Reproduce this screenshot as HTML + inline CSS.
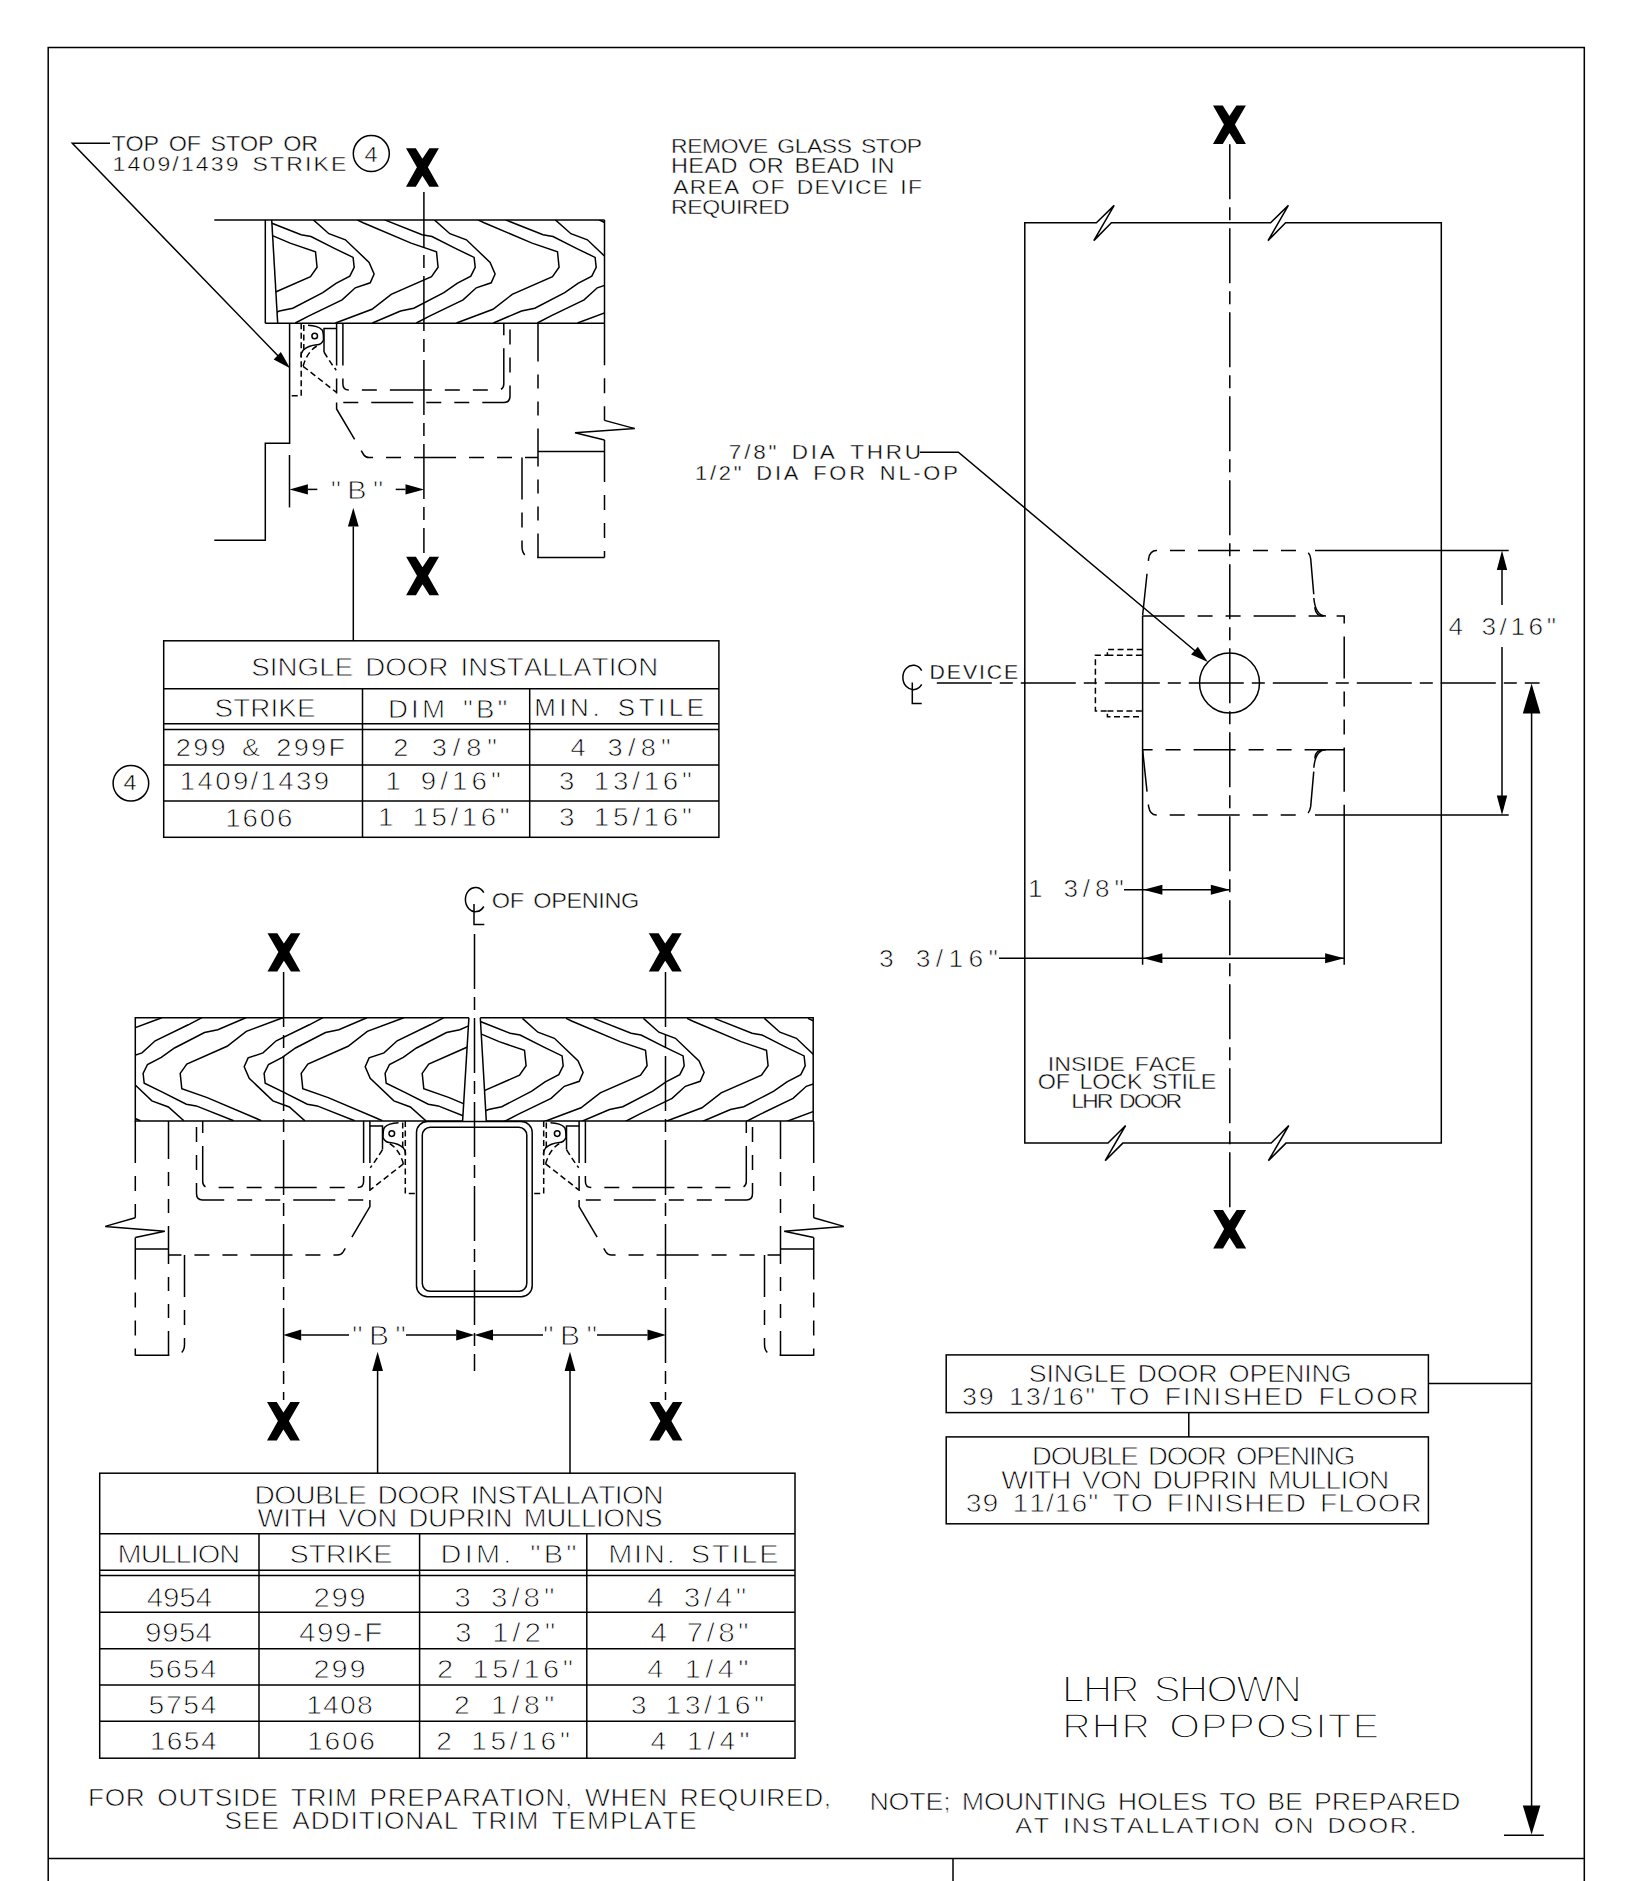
<!DOCTYPE html><html><head><meta charset="utf-8"><title>Template</title><style>
html,body{margin:0;padding:0;background:#fff;}
svg{display:block;}
.s,.h,.h2,.c,.d{fill:none;stroke:#000;stroke-width:1.5;}
.h{stroke-dasharray:42 13 15 13 15 13;}
.h2{stroke-dasharray:38 13 14 13 14 13;}
.c{stroke-dasharray:55 8 13 8;}
.d{stroke-dasharray:6 3.5;}
.fill{fill:#000;stroke:none;}
.t{font-family:"Liberation Sans",sans-serif;fill:#000;font-kerning:none;stroke:#fff;}
</style></head><body><svg width="1632" height="1881" viewBox="0 0 1632 1881">
<polyline class="s" points="48.2,1881 48.2,47.6 1584.3,47.6 1584.3,1881"/>
<line class="s" x1="48.2" y1="1858.4" x2="1584.3" y2="1858.4"/>
<line class="s" x1="953" y1="1858.5" x2="953" y2="1881"/>
<defs><g id="wt"><polyline class="s" points="357,219.9 363.1,222.7 411.1,243.1 436.5,251.9 438.1,267.3 431.5,276.7 391.2,294.4 372,309.3 335.5,323"/><polyline class="s" points="384.6,219.9 422.1,234.8 432,236.5 455.9,248.6 474.1,257.4 475.2,267.3 470.8,276.2 457,283.3 443.8,292.7 413.8,308.2 400.5,311 372.4,323"/><polyline class="s" points="434.4,219.9 449.9,233.7 466.4,239.8 490.1,262.4 495.1,274 491.2,282.8 476.3,287.8 463.1,299.9 430,315.9 416.3,323"/></g><clipPath id="c1"><polygon points="271.7,219.9 604.5,219.9 604.5,323.2 277.7,323.2"/></clipPath><clipPath id="c2"><polygon points="135.3,1017.7 468.9,1017.7 462.6,1121 135.3,1121"/></clipPath><clipPath id="c3"><polygon points="480.3,1017.7 813.2,1017.7 813.2,1121 486.3,1121"/></clipPath></defs>
<g clip-path="url(#c1)"><g transform="translate(0,0)"><use href="#wt" x="-363"/><use href="#wt" x="-242"/><use href="#wt" x="-121"/><use href="#wt" x="0"/><use href="#wt" x="121"/><use href="#wt" x="242"/></g></g>
<g clip-path="url(#c2)"><g transform="translate(618.3,1340.7) scale(-1,-1)"><use href="#wt" x="-484"/><use href="#wt" x="-363"/><use href="#wt" x="-242"/><use href="#wt" x="-121"/><use href="#wt" x="0"/><use href="#wt" x="121"/><use href="#wt" x="242"/><use href="#wt" x="363"/><use href="#wt" x="484"/></g></g>
<g clip-path="url(#c3)"><g transform="translate(88,798.5)"><use href="#wt" x="-363"/><use href="#wt" x="-242"/><use href="#wt" x="-121"/><use href="#wt" x="0"/><use href="#wt" x="121"/><use href="#wt" x="242"/><use href="#wt" x="363"/><use href="#wt" x="484"/></g></g>
<line class="s" x1="214.3" y1="219.9" x2="604.5" y2="219.9"/>
<line class="s" x1="265.3" y1="219.9" x2="265.3" y2="323.3"/>
<line class="s" x1="265.3" y1="323.3" x2="604.5" y2="323.3"/>
<line class="s" x1="271.7" y1="219.9" x2="277.7" y2="323.3"/>
<line class="s" x1="604.5" y1="219.9" x2="604.5" y2="323.3"/>
<polyline class="s" points="214.3,540.3 265.3,540.3 265.3,443.2 289.6,443.2 289.6,323.3"/>
<polyline class="s" points="468.9,1017.7 135.3,1017.7 135.3,1121 462.6,1121 468.9,1017.7"/>
<polyline class="s" points="480.3,1017.7 813.2,1017.7 813.2,1121 486.3,1121 480.3,1017.7"/>
<defs><g id="hw"><path class="d" d="M301.2,323.3 V395.8 H289.6"/><path class="d" d="M303.8,325 V350"/><circle class="s" cx="314.7" cy="336" r="2.8"/><path class="s" d="M308,325.2 Q318,325.5 322.1,329.9 Q323.5,332 323.5,340 Q321,345 316.9,344.8 Q308,345.5 303.1,350.3 Q301,353 300.9,357"/><path class="s" d="M324,352 V328.5 H336.7"/><path class="d" d="M324,352 Q330,362 336.2,370.2"/><path class="d" d="M303.1,366.3 Q307,352 316.9,345.9"/><path class="d" d="M303.1,366.3 L336.2,392.2"/><path class="h" d="M336.6,323.4 V396 Q336.6,402.4 343,402.4 H504 Q510,402.4 510,396 V323.4"/><path class="h" d="M342.9,323.4 V384 Q342.9,390 349,390 H497 Q503.8,390 503.8,384 V323.4"/><path class="h" d="M336.6,402.4 V409 L363.5,454.5 Q365.5,457.5 369,457.5 H538"/><path class="h2" d="M538,323.4 V557.6"/><path class="h" d="M538,451.4 H571"/><path class="h" d="M522,457.5 V546.6 Q522,557.6 533,557.6 H571"/></g></defs>
<use href="#hw"/>
<use href="#hw" transform="translate(706.5,797.6) scale(-1,1)"/>
<use href="#hw" transform="translate(242.5,797.6)"/>
<path class="h" d="M571,451.4 H604.5 M571,557.6 H604.5"/>
<path class="h" d="M604.5,323.3 V420.4"/>
<path class="s" d="M604.5,420.4 L634.8,428.6 L575,432.8 L604.5,440"/>
<path class="h" d="M604.5,440 V557.6"/>
<path class="h" d="M135.3,1121 V1217.8"/>
<path class="s" d="M135.3,1217.8 L105.2,1226.4 L164.8,1231.3 L135.3,1237.5"/>
<path class="h" d="M135.3,1237.5 V1355.8"/>
<path class="h" d="M813.7,1121 V1217.8"/>
<path class="s" d="M813.7,1217.8 L843.8,1226.4 L784.2,1231.3 L813.7,1237.5"/>
<path class="h" d="M813.7,1237.5 V1355.8"/>
<polyline class="s" points="110,143.3 72.3,143.3 285,363"/>
<polygon class="fill" points="290.1,368.2 273.7,359.5 280.9,352.1"/>
<circle class="s" cx="371.3" cy="153.6" r="18"/>
<polygon class="fill" points="406,148.3 415.8,148.3 422.4,158.8 429.4,148.3 438.9,148.3 427.9,167.2 438.9,186.7 429.4,186.7 422.4,175.8 415.8,186.7 406,186.7 416.9,167.2"/>
<polygon class="fill" points="406.1,556.8 415.9,556.8 422.5,567.2 429.5,556.8 439,556.8 428,575.7 439,595.2 429.5,595.2 422.5,584.3 415.9,595.2 406.1,595.2 417,575.7"/>
<line class="c" x1="423.9" y1="192" x2="423.9" y2="553"/>
<line class="s" x1="289.5" y1="455" x2="289.5" y2="507.4"/>
<polygon class="fill" points="289.5,489.4 307.9,484.3 307.9,494.5"/>
<line class="s" x1="307.9" y1="489.4" x2="317.3" y2="489.4"/>
<line class="s" x1="395.7" y1="489.4" x2="405.5" y2="489.4"/>
<polygon class="fill" points="424.1,489.4 405.5,494.5 405.5,484.3"/>
<polygon class="fill" points="353.3,507.8 358.7,526.5 347.9,526.5"/>
<line class="s" x1="353.3" y1="526.5" x2="353.3" y2="640.8"/>
<rect class="s" x="163.7" y="640.8" width="555.2" height="196.5"/>
<line class="s" x1="163.7" y1="688.7" x2="718.9" y2="688.7"/>
<line class="s" x1="163.7" y1="723.8" x2="718.9" y2="723.8"/>
<line class="s" x1="163.7" y1="729.6" x2="718.9" y2="729.6"/>
<line class="s" x1="163.7" y1="765.1" x2="718.9" y2="765.1"/>
<line class="s" x1="163.7" y1="801" x2="718.9" y2="801"/>
<line class="s" x1="362.5" y1="688.7" x2="362.5" y2="837.3"/>
<line class="s" x1="529.7" y1="688.7" x2="529.7" y2="837.3"/>
<circle class="s" cx="130.9" cy="783.3" r="17.8"/>
<path class="s" d="M1024.8,1143.1 V222.8 H1096.4 L1114.2,205.4 L1093.8,240.6 L1111.4,222.8 H1270.6 L1288.4,205.4 L1268,240.6 L1285.6,222.8 H1441.3 V1143.1 H1286 L1268.4,1160.7 L1288.8,1125.5 L1271.2,1143.1 H1122.8 L1105.2,1160.7 L1125.6,1125.5 L1108,1143.1 Z"/>
<polygon class="fill" points="1213,105.5 1222.8,105.5 1229.4,116 1236.4,105.5 1245.9,105.5 1234.9,124.4 1245.9,143.9 1236.4,143.9 1229.4,133 1222.8,143.9 1213,143.9 1223.9,124.4"/>
<polygon class="fill" points="1213.2,1210.1 1223,1210.1 1229.6,1220.5 1236.6,1210.1 1246.1,1210.1 1235.1,1229 1246.1,1248.5 1236.6,1248.5 1229.6,1237.6 1223,1248.5 1213.2,1248.5 1224.1,1229"/>
<line class="c" x1="1229.8" y1="144.3" x2="1229.8" y2="1210.6"/>
<path class="h" d="M1142.6,615.5 L1148.6,558.9 Q1150,550.6 1156.3,550.6 H1303 Q1309.5,550.6 1310.7,558.9 L1315,608.6 Q1316,616 1323.6,616"/>
<path class="h" d="M1142.6,749.8 L1148.6,806.4 Q1150,815 1156.3,815 H1303 Q1309.5,815 1310.7,806.4 L1315,757.2 Q1316,749.8 1323.6,749.8"/>
<path class="h" d="M1142.6,616 H1344.2 V749.8 H1142.6"/>
<line class="s" x1="1142.6" y1="616" x2="1142.6" y2="964.8"/>
<path class="s" d="M1313.8,598 Q1315.5,616 1326,616"/>
<path class="s" d="M1313.8,767.8 Q1315.5,749.8 1326,749.8"/>
<path class="h" d="M1344.2,749.8 V815"/>
<path class="s" d="M1344.2,815 V964.8"/>
<polyline class="d" points="1142.6,649.5 1107.4,649.5 1107.4,655.3 1095.4,655.3 1095.4,711 1107.4,711 1107.4,716.7 1142.6,716.7"/>
<path class="d" d="M1107.4,655.3 H1142.6 M1107.4,711 H1142.6"/>
<circle class="s" cx="1229.5" cy="683" r="30"/>
<line class="c" x1="936.8" y1="683" x2="1539.6" y2="683"/>
<polyline class="s" points="919.6,452.2 958.4,452.2 1200,655"/>
<polygon class="fill" points="1207.8,662.1 1191.1,654.5 1197.9,646.7"/>
<path class="s" d="M921.7,670.6 A10.3,12.2 0 1 0 921.7,684.3"/>
<path class="s" d="M912.3,682.6 V703.6 H921.7"/>
<line class="s" x1="1315" y1="550.6" x2="1508.7" y2="550.6"/>
<line class="s" x1="1315" y1="815" x2="1508.7" y2="815"/>
<line class="s" x1="1502" y1="570" x2="1502" y2="605"/>
<line class="s" x1="1502" y1="647" x2="1502" y2="796"/>
<polygon class="fill" points="1502,550.6 1507.2,570 1496.8,570"/>
<polygon class="fill" points="1502,815 1496.8,795.6 1507.2,795.6"/>
<line class="s" x1="1124" y1="889.8" x2="1229.8" y2="889.8"/>
<polygon class="fill" points="1143.4,889.8 1162.4,884.8 1162.4,894.8"/>
<polygon class="fill" points="1229.8,889.8 1210.8,894.8 1210.8,884.8"/>
<line class="s" x1="999" y1="958.2" x2="1344.1" y2="958.2"/>
<polygon class="fill" points="1143.4,958.2 1162.4,953.2 1162.4,963.2"/>
<polygon class="fill" points="1344.1,958.2 1325.1,963.2 1325.1,953.2"/>
<line class="s" x1="1531.6" y1="713" x2="1531.6" y2="1806"/>
<polygon class="fill" points="1531.6,683.4 1540.4,713.4 1522.8,713.4"/>
<polygon class="fill" points="1531.6,1834.5 1522.8,1805.5 1540.4,1805.5"/>
<line class="s" x1="1504" y1="1835.2" x2="1543.8" y2="1835.2"/>
<rect class="s" x="946.2" y="1354.9" width="482.2" height="57.7"/>
<rect class="s" x="946.2" y="1436.9" width="482.2" height="86.9"/>
<line class="s" x1="1188.8" y1="1412.6" x2="1188.8" y2="1436.9"/>
<line class="s" x1="1428.4" y1="1383.5" x2="1531.6" y2="1383.5"/>
<polygon class="fill" points="267.5,933.2 277.3,933.2 283.9,943.6 290.9,933.2 300.4,933.2 289.4,952.1 300.4,971.6 290.9,971.6 283.9,960.7 277.3,971.6 267.5,971.6 278.4,952.1"/>
<polygon class="fill" points="648.8,933.2 658.6,933.2 665.2,943.6 672.2,933.2 681.7,933.2 670.7,952.1 681.7,971.6 672.2,971.6 665.2,960.7 658.6,971.6 648.8,971.6 659.7,952.1"/>
<polygon class="fill" points="267,1402 276.8,1402 283.4,1412.5 290.4,1402 299.9,1402 288.9,1420.9 299.9,1440.4 290.4,1440.4 283.4,1429.5 276.8,1440.4 267,1440.4 277.9,1420.9"/>
<polygon class="fill" points="649.5,1402 659.3,1402 665.9,1412.5 672.9,1402 682.4,1402 671.4,1420.9 682.4,1440.4 672.9,1440.4 665.9,1429.5 659.3,1440.4 649.5,1440.4 660.4,1420.9"/>
<line class="c" x1="283.6" y1="972" x2="283.6" y2="1400"/>
<line class="c" x1="665.5" y1="972" x2="665.5" y2="1400"/>
<path class="s" d="M483.8,892.7 A10.1,12.1 0 1 0 483.8,906.5"/>
<path class="s" d="M474,904 V924.6 H484.3"/>
<line class="c" x1="474.5" y1="934" x2="474.5" y2="1371"/>
<rect class="s" x="416.5" y="1121.5" width="115.7" height="175.2" rx="11"/>
<rect class="s" x="422.3" y="1127.3" width="104.5" height="164" rx="8"/>
<polygon class="fill" points="283.2,1335 301.2,1329.6 301.2,1340.4"/>
<line class="s" x1="301.2" y1="1335" x2="349" y2="1335"/>
<line class="s" x1="406" y1="1335" x2="456.2" y2="1335"/>
<polygon class="fill" points="474.4,1335 456.2,1340.4 456.2,1329.6"/>
<polygon class="fill" points="474.4,1335 493,1329.6 493,1340.4"/>
<line class="s" x1="493" y1="1335" x2="543" y2="1335"/>
<line class="s" x1="597" y1="1335" x2="647.5" y2="1335"/>
<polygon class="fill" points="665.9,1335 647.5,1340.4 647.5,1329.6"/>
<polygon class="fill" points="377.6,1351.8 383,1370.9 372.2,1370.9"/>
<line class="s" x1="377.6" y1="1370.9" x2="377.6" y2="1473.2"/>
<polygon class="fill" points="570,1351.8 575.4,1370.9 564.6,1370.9"/>
<line class="s" x1="570" y1="1370.9" x2="570" y2="1473.2"/>
<rect class="s" x="99.7" y="1473.2" width="695.3" height="285"/>
<line class="s" x1="99.7" y1="1533.7" x2="795" y2="1533.7"/>
<line class="s" x1="99.7" y1="1570.3" x2="795" y2="1570.3"/>
<line class="s" x1="99.7" y1="1575.6" x2="795" y2="1575.6"/>
<line class="s" x1="99.7" y1="1612.2" x2="795" y2="1612.2"/>
<line class="s" x1="99.7" y1="1648.8" x2="795" y2="1648.8"/>
<line class="s" x1="99.7" y1="1685" x2="795" y2="1685"/>
<line class="s" x1="99.7" y1="1721.2" x2="795" y2="1721.2"/>
<line class="s" x1="259" y1="1533.7" x2="259" y2="1758.2"/>
<line class="s" x1="419.6" y1="1533.7" x2="419.6" y2="1758.2"/>
<line class="s" x1="586.8" y1="1533.7" x2="586.8" y2="1758.2"/>
<text class="t" transform="translate(111.5,150.6) scale(1.1,1)" font-size="21.22" letter-spacing="-0.16" word-spacing="3.18" stroke-width="0.45">TOP OF STOP OR</text>
<text class="t" transform="translate(112.6,170.7) scale(1.1,1)" font-size="20.93" letter-spacing="1.94" word-spacing="3.14" stroke-width="0.43">1409/1439 STRIKE</text>
<text class="t" transform="translate(364.6,161.7) scale(1.1,1)" font-size="21.37" letter-spacing="0.00" word-spacing="3.20" stroke-width="0.47">4</text>
<text class="t" transform="translate(671,152.7) scale(1.1,1)" font-size="20.79" letter-spacing="-0.34" word-spacing="3.12" stroke-width="0.42">REMOVE GLASS STOP</text>
<text class="t" transform="translate(671,173.3) scale(1.1,1)" font-size="21.37" letter-spacing="0.34" word-spacing="3.20" stroke-width="0.47">HEAD OR BEAD IN</text>
<text class="t" transform="translate(673.2,193.5) scale(1.1,1)" font-size="20.79" letter-spacing="1.13" word-spacing="3.12" stroke-width="0.42">AREA OF DEVICE IF</text>
<text class="t" transform="translate(671,213.8) scale(1.1,1)" font-size="20.93" letter-spacing="-0.36" word-spacing="3.14" stroke-width="0.43">REQUIRED</text>
<text class="t" transform="translate(330.8,498.5) scale(1.1,1)" font-size="26.31" letter-spacing="5.73" word-spacing="3.95" stroke-width="0.89">&quot;B&quot;</text>
<text class="t" transform="translate(251.2,676.3) scale(1.1,1)" font-size="25.15" letter-spacing="0.09" word-spacing="3.77" stroke-width="0.79">SINGLE DOOR INSTALLATION</text>
<text class="t" transform="translate(214.5,716.9) scale(1.1,1)" font-size="25.29" letter-spacing="0.09" word-spacing="3.79" stroke-width="0.80">STRIKE</text>
<text class="t" transform="translate(388,718) scale(1.1,1)" font-size="25.15" letter-spacing="2.84" word-spacing="3.77" stroke-width="0.79">DIM &quot;B&quot;</text>
<text class="t" transform="translate(534.2,715.7) scale(1.1,1)" font-size="23.55" letter-spacing="3.25" word-spacing="3.53" stroke-width="0.65">MIN. STILE</text>
<text class="t" transform="translate(175.8,756.3) scale(1.1,1)" font-size="24.71" letter-spacing="2.08" word-spacing="3.71" stroke-width="0.75">299 &amp; 299F</text>
<text class="t" transform="translate(393.2,756.3) scale(1.1,1)" font-size="24.71" letter-spacing="5.37" word-spacing="3.71" stroke-width="0.75">2 3/8&quot;</text>
<text class="t" transform="translate(570.4,756.3) scale(1.1,1)" font-size="24.71" letter-spacing="4.75" word-spacing="3.71" stroke-width="0.75">4 3/8&quot;</text>
<text class="t" transform="translate(179.8,790.2) scale(1.1,1)" font-size="25.15" letter-spacing="2.11" word-spacing="3.77" stroke-width="0.79">1409/1439</text>
<text class="t" transform="translate(385.5,790.2) scale(1.1,1)" font-size="25.15" letter-spacing="3.70" word-spacing="3.77" stroke-width="0.79">1 9/16&quot;</text>
<text class="t" transform="translate(559.1,790.2) scale(1.1,1)" font-size="25.15" letter-spacing="3.44" word-spacing="3.77" stroke-width="0.79">3 13/16&quot;</text>
<text class="t" transform="translate(123.5,790.2) scale(1.1,1)" font-size="21.22" letter-spacing="0.00" word-spacing="3.18" stroke-width="0.45">4</text>
<text class="t" transform="translate(225.3,826.8) scale(1.1,1)" font-size="25.15" letter-spacing="1.66" word-spacing="3.77" stroke-width="0.79">1606</text>
<text class="t" transform="translate(377.9,826.3) scale(1.1,1)" font-size="25.15" letter-spacing="3.32" word-spacing="3.77" stroke-width="0.79">1 15/16&quot;</text>
<text class="t" transform="translate(559.1,825.8) scale(1.1,1)" font-size="25.29" letter-spacing="3.36" word-spacing="3.79" stroke-width="0.80">3 15/16&quot;</text>
<text class="t" transform="translate(728.8,459.4) scale(1.1,1)" font-size="20.49" letter-spacing="2.55" word-spacing="3.07" stroke-width="0.39">7/8&quot; DIA THRU</text>
<text class="t" transform="translate(695,480) scale(1.1,1)" font-size="19.91" letter-spacing="2.51" word-spacing="2.99" stroke-width="0.34">1/2&quot; DIA FOR NL-OP</text>
<text class="t" transform="translate(929.5,678.7) scale(1.1,1)" font-size="19.33" letter-spacing="1.76" word-spacing="2.90" stroke-width="0.29">DEVICE</text>
<text class="t" transform="translate(1448.4,634.9) scale(1.1,1)" font-size="23.84" letter-spacing="3.27" word-spacing="3.58" stroke-width="0.68">4 3/16&quot;</text>
<text class="t" transform="translate(1028,897.3) scale(1.1,1)" font-size="23.69" letter-spacing="4.47" word-spacing="3.55" stroke-width="0.66">1 3/8&quot;</text>
<text class="t" transform="translate(879,966.5) scale(1.1,1)" font-size="23.98" letter-spacing="4.90" word-spacing="3.60" stroke-width="0.69">3 3/16&quot;</text>
<text class="t" transform="translate(1047.8,1070.7) scale(1.1,1)" font-size="21.08" letter-spacing="-0.04" word-spacing="3.16" stroke-width="0.44">INSIDE FACE</text>
<text class="t" transform="translate(1037.7,1089.3) scale(1.1,1)" font-size="21.22" letter-spacing="-0.17" word-spacing="3.18" stroke-width="0.45">OF LOCK STILE</text>
<text class="t" transform="translate(1071.3,1108.2) scale(1.1,1)" font-size="21.08" letter-spacing="-1.92" word-spacing="3.16" stroke-width="0.44">LHR DOOR</text>
<text class="t" transform="translate(1028.8,1381.8) scale(1.1,1)" font-size="24.42" letter-spacing="-0.15" word-spacing="3.66" stroke-width="0.73">SINGLE DOOR OPENING</text>
<text class="t" transform="translate(961.9,1404.7) scale(1.1,1)" font-size="24.42" letter-spacing="1.71" word-spacing="3.66" stroke-width="0.73">39 13/16&quot; TO FINISHED FLOOR</text>
<text class="t" transform="translate(1032.1,1465.1) scale(1.1,1)" font-size="25.00" letter-spacing="-1.14" word-spacing="3.75" stroke-width="0.78">DOUBLE DOOR OPENING</text>
<text class="t" transform="translate(1001.2,1488.5) scale(1.1,1)" font-size="25.58" letter-spacing="-0.56" word-spacing="3.84" stroke-width="0.82">WITH VON DUPRIN MULLION</text>
<text class="t" transform="translate(965.8,1511.5) scale(1.1,1)" font-size="25.73" letter-spacing="0.92" word-spacing="3.86" stroke-width="0.84">39 11/16&quot; TO FINISHED FLOOR</text>
<text class="t" transform="translate(1062.1,1702.4) scale(1.1,1)" font-size="36.63" letter-spacing="-1.42" word-spacing="5.49" stroke-width="1.76">LHR SHOWN</text>
<text class="t" transform="translate(1062.2,1738.3) scale(1.1,1)" font-size="35.90" letter-spacing="1.05" word-spacing="5.39" stroke-width="1.70">RHR OPPOSITE</text>
<text class="t" transform="translate(869.4,1810.3) scale(1.1,1)" font-size="24.42" letter-spacing="-0.17" word-spacing="3.66" stroke-width="0.73">NOTE; MOUNTING HOLES TO BE PREPARED</text>
<text class="t" transform="translate(1015.3,1833.3) scale(1.1,1)" font-size="22.97" letter-spacing="1.44" word-spacing="3.44" stroke-width="0.60">AT INSTALLATION ON DOOR.</text>
<text class="t" transform="translate(491.8,907.6) scale(1.1,1)" font-size="21.37" letter-spacing="-0.35" word-spacing="3.20" stroke-width="0.47">OF OPENING</text>
<text class="t" transform="translate(351.9,1344.7) scale(1.1,1)" font-size="27.33" letter-spacing="5.76" word-spacing="4.10" stroke-width="0.97">&quot;B&quot;</text>
<text class="t" transform="translate(543.1,1344.7) scale(1.1,1)" font-size="27.33" letter-spacing="5.76" word-spacing="4.10" stroke-width="0.97">&quot;B&quot;</text>
<text class="t" transform="translate(254.5,1504.1) scale(1.1,1)" font-size="25.58" letter-spacing="-0.60" word-spacing="3.84" stroke-width="0.82">DOUBLE DOOR INSTALLATION</text>
<text class="t" transform="translate(257.5,1527) scale(1.1,1)" font-size="24.86" letter-spacing="-0.15" word-spacing="3.73" stroke-width="0.76">WITH VON DUPRIN MULLIONS</text>
<text class="t" transform="translate(117.6,1562.8) scale(1.1,1)" font-size="26.31" letter-spacing="-0.93" word-spacing="3.95" stroke-width="0.89">MULLION</text>
<text class="t" transform="translate(289.4,1562.8) scale(1.1,1)" font-size="26.31" letter-spacing="-0.25" word-spacing="3.95" stroke-width="0.89">STRIKE</text>
<text class="t" transform="translate(440.6,1562.8) scale(1.1,1)" font-size="26.31" letter-spacing="2.93" word-spacing="3.95" stroke-width="0.89">DIM. &quot;B&quot;</text>
<text class="t" transform="translate(608.2,1562.8) scale(1.1,1)" font-size="26.31" letter-spacing="1.66" word-spacing="3.95" stroke-width="0.89">MIN. STILE</text>
<text class="t" transform="translate(146.7,1606.5) scale(1.1,1)" font-size="26.89" letter-spacing="-0.11" word-spacing="4.03" stroke-width="0.94">4954</text>
<text class="t" transform="translate(313.5,1606.5) scale(1.1,1)" font-size="26.89" letter-spacing="1.34" word-spacing="4.03" stroke-width="0.94">299</text>
<text class="t" transform="translate(454.2,1606.5) scale(1.1,1)" font-size="26.89" letter-spacing="3.56" word-spacing="4.03" stroke-width="0.94">3 3/8&quot;</text>
<text class="t" transform="translate(647.3,1606.5) scale(1.1,1)" font-size="26.89" letter-spacing="3.33" word-spacing="4.03" stroke-width="0.94">4 3/4&quot;</text>
<text class="t" transform="translate(145.1,1641.8) scale(1.1,1)" font-size="27.04" letter-spacing="0.28" word-spacing="4.06" stroke-width="0.95">9954</text>
<text class="t" transform="translate(298.9,1641.8) scale(1.1,1)" font-size="27.04" letter-spacing="1.32" word-spacing="4.06" stroke-width="0.95">499-F</text>
<text class="t" transform="translate(455.1,1641.8) scale(1.1,1)" font-size="27.04" letter-spacing="3.48" word-spacing="4.06" stroke-width="0.95">3 1/2&quot;</text>
<text class="t" transform="translate(650.5,1641.8) scale(1.1,1)" font-size="27.04" letter-spacing="3.09" word-spacing="4.06" stroke-width="0.95">4 7/8&quot;</text>
<text class="t" transform="translate(148.4,1677.5) scale(1.1,1)" font-size="26.31" letter-spacing="1.13" word-spacing="3.95" stroke-width="0.89">5654</text>
<text class="t" transform="translate(313.5,1677.5) scale(1.1,1)" font-size="26.31" letter-spacing="1.79" word-spacing="3.95" stroke-width="0.89">299</text>
<text class="t" transform="translate(437,1677.5) scale(1.1,1)" font-size="26.31" letter-spacing="3.22" word-spacing="3.95" stroke-width="0.89">2 15/16&quot;</text>
<text class="t" transform="translate(647.3,1677.5) scale(1.1,1)" font-size="26.31" letter-spacing="4.06" word-spacing="3.95" stroke-width="0.89">4 1/4&quot;</text>
<text class="t" transform="translate(148.5,1713.7) scale(1.1,1)" font-size="25.73" letter-spacing="1.55" word-spacing="3.86" stroke-width="0.84">5754</text>
<text class="t" transform="translate(306.2,1713.7) scale(1.1,1)" font-size="25.73" letter-spacing="1.07" word-spacing="3.86" stroke-width="0.84">1408</text>
<text class="t" transform="translate(453.9,1713.7) scale(1.1,1)" font-size="25.73" letter-spacing="4.23" word-spacing="3.86" stroke-width="0.84">2 1/8&quot;</text>
<text class="t" transform="translate(630.7,1713.7) scale(1.1,1)" font-size="25.73" letter-spacing="3.19" word-spacing="3.86" stroke-width="0.84">3 13/16&quot;</text>
<text class="t" transform="translate(149.7,1749.8) scale(1.1,1)" font-size="25.58" letter-spacing="1.29" word-spacing="3.84" stroke-width="0.82">1654</text>
<text class="t" transform="translate(307.2,1749.8) scale(1.1,1)" font-size="25.58" letter-spacing="1.57" word-spacing="3.84" stroke-width="0.82">1606</text>
<text class="t" transform="translate(436.2,1749.8) scale(1.1,1)" font-size="25.58" letter-spacing="3.33" word-spacing="3.84" stroke-width="0.82">2 15/16&quot;</text>
<text class="t" transform="translate(650.6,1749.8) scale(1.1,1)" font-size="25.58" letter-spacing="4.01" word-spacing="3.84" stroke-width="0.82">4 1/4&quot;</text>
<text class="t" transform="translate(88,1806) scale(1.1,1)" font-size="23.84" letter-spacing="0.64" word-spacing="3.58" stroke-width="0.68">FOR OUTSIDE TRIM PREPARATION, WHEN REQUIRED,</text>
<text class="t" transform="translate(224.6,1829.3) scale(1.1,1)" font-size="23.84" letter-spacing="0.89" word-spacing="3.58" stroke-width="0.68">SEE ADDITIONAL TRIM TEMPLATE</text>
</svg></body></html>
